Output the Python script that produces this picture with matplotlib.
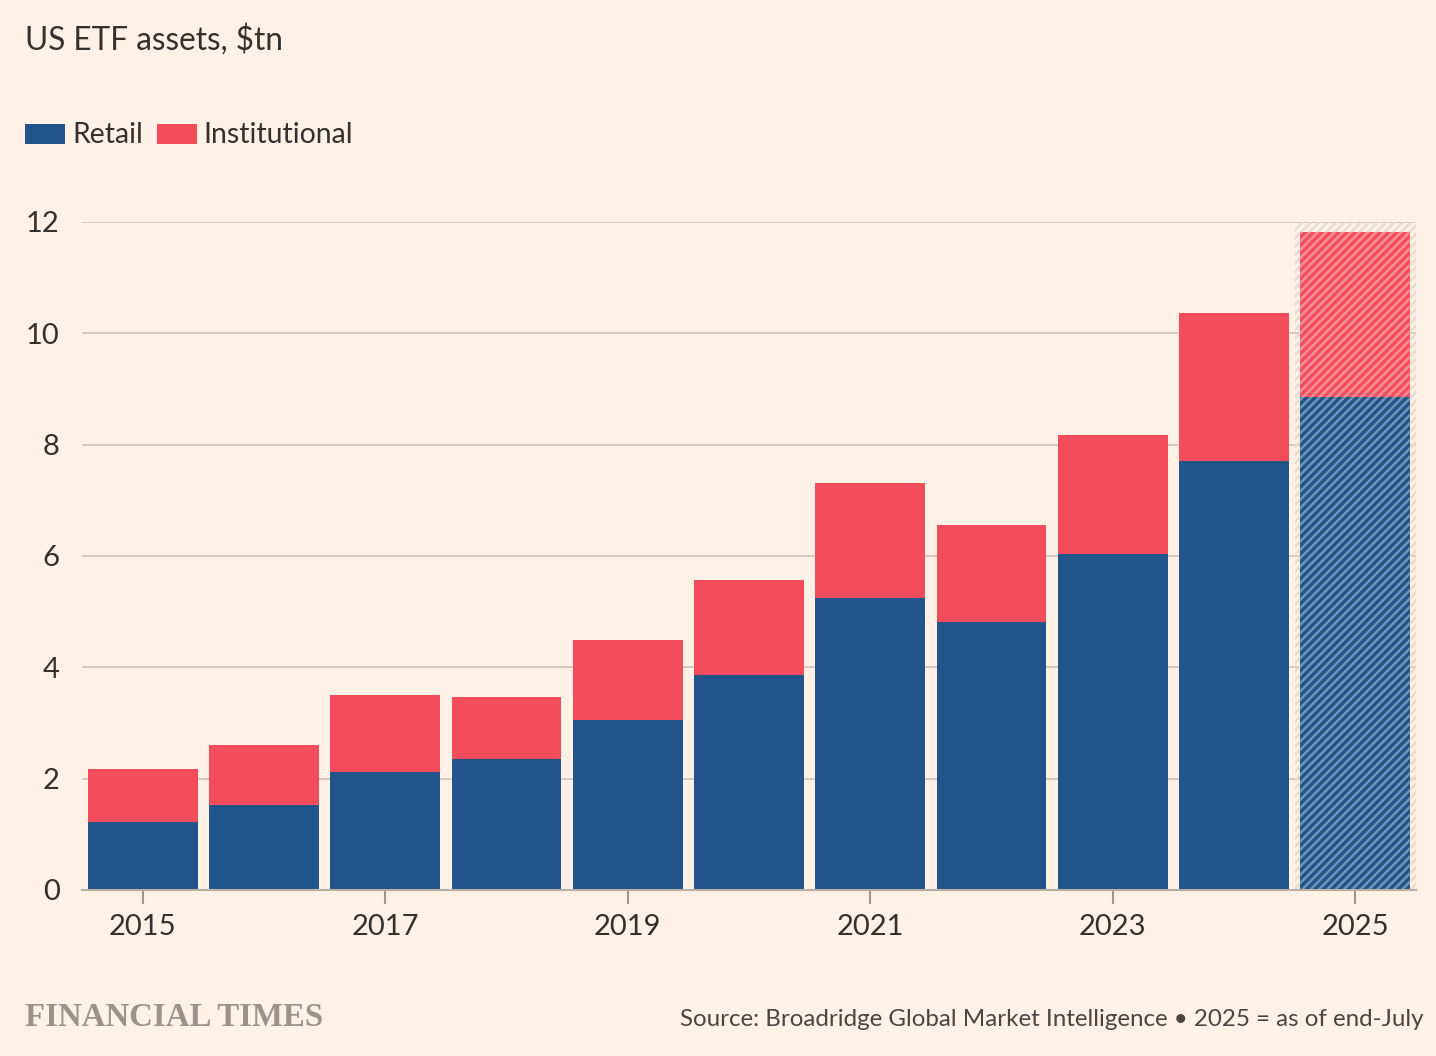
import matplotlib.pyplot as plt
from matplotlib.patches import Rectangle

years = [2015, 2016, 2017, 2018, 2019, 2020, 2021, 2022, 2023, 2024, 2025]
retail = [1.22, 1.53, 2.12, 2.35, 3.05, 3.86, 5.25, 4.81, 6.04, 7.71, 8.86]
total = [2.17, 2.60, 3.50, 3.47, 4.49, 5.57, 7.31, 6.56, 8.17, 10.36, 11.82]
institutional = [t - r for t, r in zip(total, retail)]
tick_years = [2015, 2017, 2019, 2021, 2023, 2025]
y_ticks = [0, 2, 4, 6, 8, 10, 12]

BG = "#FFF1E5"
BLUE = "#20548A"
RED = "#F34C5B"
TEXT = "#33302E"
GRID = "#D2C8BC"

plt.rcParams["font.family"] = ["Lato", "DejaVu Sans"]
plt.rcParams["hatch.linewidth"] = 1.8

fig = plt.figure(figsize=(14.36, 10.56), dpi=100, facecolor=BG)
ax = fig.add_axes([82 / 1436, 1 - 890 / 1056, (1416 - 82) / 1436, (890 - 222) / 1056])
ax.set_facecolor(BG)

# hatched band marking the partial year
last = years[-1]
ax.add_patch(Rectangle((last - 0.5, 0), 1.0, 12, facecolor="none",
                       edgecolor="#E6DCD1", hatch="////", linewidth=0, zorder=1))

w = 0.905
ax.bar(years, retail, width=w, color=BLUE, zorder=2)
ax.bar(years, institutional, bottom=retail, width=w, color=RED, zorder=2)

# hatch over the 2025 bar
ax.bar([last], [total[-1]], width=w, facecolor="none",
       edgecolor=(1, 1, 1, 0.38), hatch="////", linewidth=0, zorder=3)

ax.set_xlim(2014.5, 2025.5)
ax.set_ylim(0, 12)
ax.set_yticks(y_ticks)
ax.set_xticks(tick_years)
ax.set_xticklabels([str(y) for y in tick_years])
ax.grid(axis="y", color=GRID, linewidth=1.3, zorder=0)
ax.set_axisbelow(True)
for s in ["top", "right", "left"]:
    ax.spines[s].set_visible(False)
ax.spines["bottom"].set_color("#B8AEA4")
ax.spines["bottom"].set_linewidth(1.5)
ax.spines["bottom"].set_zorder(4)
ax.tick_params(axis="y", length=0, pad=16, labelsize=21, labelcolor=TEXT)
ax.tick_params(axis="x", length=10, width=1.5, color="#9E958C", pad=7,
               labelsize=21, labelcolor=TEXT)

fig.text(25 / 1436, 1 - 40 / 1056, "US ETF assets, $tn", fontsize=22.7,
         color=TEXT, va="center", ha="left")

# legend
fig.patches.append(Rectangle((25 / 1436, 1 - 144 / 1056), 40 / 1436, 20 / 1056,
                             transform=fig.transFigure, facecolor=BLUE, figure=fig))
fig.text(72 / 1436, 1 - 135 / 1056, "Retail", fontsize=20.4, color=TEXT,
         va="center", ha="left")
fig.patches.append(Rectangle((157 / 1436, 1 - 144 / 1056), 40 / 1436, 20 / 1056,
                             transform=fig.transFigure, facecolor=RED, figure=fig))
fig.text(203 / 1436, 1 - 135 / 1056, "Institutional", fontsize=20.4, color=TEXT,
         va="center", ha="left")

fig.text(25 / 1436, 1 - 1017 / 1056, "FINANCIAL TIMES", fontsize=23.7,
         family="Liberation Serif", weight="bold", color="#9B938B",
         va="center", ha="left")
fig.text(1424 / 1436, 1 - 1020 / 1056,
         "Source: Broadridge Global Market Intelligence \u2022 2025 = as of end-July",
         fontsize=17.4, color="#4A4543", va="center", ha="right")

fig.savefig("out.png", dpi=100, facecolor=BG)
